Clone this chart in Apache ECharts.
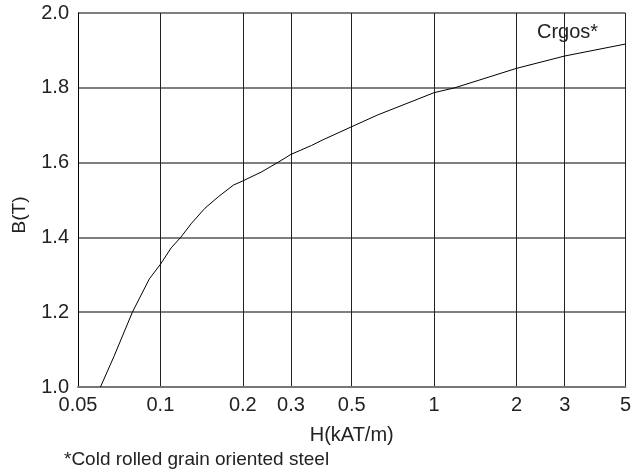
<!DOCTYPE html>
<html>
<head>
<meta charset="utf-8">
<script src="https://cdn.jsdelivr.net/npm/echarts@6/dist/echarts.min.js"></script>
<style>
  html, body { margin: 0; padding: 0; background: #fff; }
  #main { width: 634px; height: 475px; }
</style>
</head>
<body>
<div id="main"></div>
<script>
// H in kAT/m, B in T
var hValues = [0.0604, 0.0676, 0.079, 0.0911, 0.1, 0.1095, 0.1186, 0.13, 0.1455, 0.163, 0.185, 0.2,
               0.234, 0.268, 0.3, 0.357, 0.39, 0.5, 0.62, 1, 1.19, 2, 3, 5];
var bValues = [1.0, 1.081, 1.2, 1.289, 1.328, 1.372, 1.4, 1.438, 1.478, 1.509, 1.54, 1.551,
               1.575, 1.6, 1.622, 1.646, 1.66, 1.696, 1.727, 1.787, 1.8, 1.852, 1.885, 1.917];
var xTicks = [0.05, 0.1, 0.2, 0.3, 0.5, 1, 2, 3, 5];

var seriesData = hValues.map(function (h, i) { return [h, bValues[i]]; });

var font = 'Liberation Sans, Arial, sans-serif';
var chart = echarts.init(document.getElementById('main'));
var option = {
    animation: false,
    backgroundColor: '#fff',
    grid: { left: 78, right: 4, top: 13, bottom: 88 },
    xAxis: {
        type: 'log',
        logBase: 10,
        min: 0.05,
        max: 5,
        name: 'H(kAT/m)',
        nameLocation: 'middle',
        nameGap: 38,
        nameTextStyle: { color: '#222', fontSize: 20, fontFamily: font },
        axisLine: { show: true, lineStyle: { color: '#777', width: 2 } },
        axisTick: { show: false, customValues: xTicks },
        axisLabel: {
            customValues: xTicks,
            color: '#222', fontSize: 20, fontFamily: font, margin: 8,
            formatter: function (v) { return String(+v.toPrecision(3)); }
        },
        splitLine: { show: true, lineStyle: { color: '#222', width: 1 } }
    },
    yAxis: {
        type: 'value',
        min: 1.0,
        max: 2.0,
        interval: 0.2,
        axisLine: { show: true, lineStyle: { color: '#000', width: 1 } },
        axisTick: { show: false },
        axisLabel: {
            color: '#222', fontSize: 20, fontFamily: font, margin: 9,
            formatter: function (v) { return v.toFixed(1); }
        },
        splitLine: { show: true, lineStyle: { color: '#555', width: 1.5 } }
    },
    graphic: [
        {
            type: 'text', x: 20, y: 215, rotation: Math.PI / 2,
            style: { text: 'B(T)', fill: '#222', font: '19px ' + font, align: 'center', verticalAlign: 'middle' }
        },
        {
            type: 'text', left: 537, top: 22,
            style: { text: 'Crgos*', fill: '#222', font: '20px ' + font }
        },
        {
            type: 'text', left: 64, top: 450,
            style: { text: '*Cold rolled grain oriented steel', fill: '#222', font: '19px ' + font }
        }
    ],
    series: [{
        type: 'line',
        data: seriesData,
        showSymbol: false,
        smooth: false,
        lineStyle: { color: '#000', width: 1 }
    }]
};
chart.setOption(option);
</script>
</body>
</html>
